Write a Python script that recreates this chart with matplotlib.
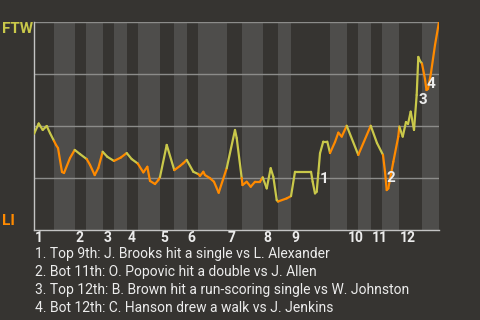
import numpy as np
import matplotlib.pyplot as plt
from matplotlib.collections import LineCollection

plt.rcParams['font.family'] = ['Roboto', 'DejaVu Sans']

BG = "#363431"
LIGHT = "#4e4d4b"
GRID = "#8c8c8a"
AXIS = "#c4c4c4"
YEL = "#c9c84a"
ORG = "#ff8a00"
TXT = "#ececec"

# game progress (0-100) and win probability
x = [0, 1.16, 2.15, 3.14, 3.95, 4.94, 5.43, 5.93, 6.91, 7.41, 8.89, 10.05, 11.36,
     13.01, 13.83, 14.99, 15.88, 16.96, 18.10, 19.75, 21.41, 22.89, 24.12, 25.60,
     26.99, 27.98, 28.64, 29.88, 30.69, 31.11, 32.77, 34.64, 36.05, 36.86, 37.70,
     39.33, 40.57, 40.99, 41.80, 42.22, 43.46, 44.44, 45.60, 47.58, 49.63, 50.05,
     51.28, 51.48, 52.52, 53.51, 54.57, 55.80, 56.47, 57.46, 58.44, 59.09, 59.93,
     60.25, 62.40, 63.46, 64.44, 68.40, 68.81, 69.38, 69.80, 70.20, 70.62, 71.43,
     72.42, 73.09, 74.32, 75.14, 75.98, 77.21, 80.07, 83.14, 84.69, 86.17, 86.67,
     87.09, 87.48, 88.72, 89.95, 90.20, 91.04, 91.85, 92.35, 93.01, 93.83, 94.49,
     94.89, 95.31, 95.80, 96.54, 96.91, 97.28, 98.02, 99.01, 100]
wp = [0.462, 0.512, 0.481, 0.500, 0.466, 0.428, 0.409, 0.394, 0.279, 0.274, 0.346,
      0.385, 0.365, 0.341, 0.313, 0.264, 0.298, 0.376, 0.352, 0.332, 0.348, 0.370,
      0.341, 0.320, 0.277, 0.304, 0.236, 0.221, 0.240, 0.255, 0.409, 0.288, 0.308,
      0.321, 0.337, 0.280, 0.269, 0.260, 0.280, 0.264, 0.249, 0.232, 0.179, 0.297,
      0.481, 0.442, 0.250, 0.216, 0.232, 0.208, 0.232, 0.232, 0.253, 0.200, 0.297,
      0.256, 0.144, 0.137, 0.152, 0.163, 0.280, 0.280, 0.232, 0.176, 0.184, 0.273,
      0.369, 0.425, 0.425, 0.370, 0.423, 0.468, 0.449, 0.501, 0.361, 0.501, 0.418,
      0.361, 0.280, 0.192, 0.200, 0.328, 0.449, 0.497, 0.449, 0.519, 0.510, 0.569,
      0.481, 0.649, 0.832, 0.813, 0.800, 0.726, 0.673, 0.678, 0.755, 0.889, 1.0]

# half-inning boundaries (top, bottom, top, bottom ...)
half_edges = [0, 4.94, 10.12, 12.84, 17.04, 19.75, 22.96, 25.68, 31.11, 34.57,
              37.78, 40.49, 47.65, 51.36, 56.54, 60.25, 63.46, 73.09, 77.28, 80.0,
              83.21, 85.93, 90.12, 95.8, 100]
innings = [str(i) for i in range(1, 13)]

events = ["1", "2", "3", "4"]
event_x = [71.53, 88.15, 96.05, 98.02]
event_y = [0.243, 0.248, 0.625, 0.703]
event_text = [
    "1. Top 9th: J. Brooks hit a single vs L. Alexander",
    "2. Bot 11th: O. Popovic hit a double vs J. Allen",
    "3. Top 12th: B. Brown hit a run-scoring single vs W. Johnston",
    "4. Bot 12th: C. Hanson drew a walk vs J. Jenkins",
]

fig = plt.figure(figsize=(4.8, 3.2), dpi=100, facecolor=BG)
ax = fig.add_axes([34/480, 90/320, 405/480, 208/320], facecolor=BG)
ax.set_xlim(0, 100)
ax.set_ylim(0, 1)

for i in range(1, len(half_edges) - 1, 2):
    ax.axvspan(half_edges[i], half_edges[i + 1], color=LIGHT, lw=0, zorder=0)
for g in [0.25, 0.5, 0.75, 1.0]:
    ax.axhline(g, color=GRID, lw=1, zorder=1)

xs = np.array(x)
pts = np.column_stack([xs, wp])
segs = np.stack([pts[:-1], pts[1:]], axis=1)
half = np.searchsorted(half_edges, (xs[:-1] + xs[1:]) / 2) - 1
cols = [YEL if h % 2 == 0 else ORG for h in half]
ax.add_collection(LineCollection(segs, colors=cols, linewidths=1.6,
                                 capstyle='round', joinstyle='round', zorder=3))

for s, ex, ey in zip(events, event_x, event_y):
    ax.text(ex, ey, s, color=TXT, fontsize=11, fontweight='bold',
            ha='center', va='center', zorder=4)

for lbl, e in zip(innings, half_edges[0::2]):
    ax.annotate(lbl, xy=(e, 0), xycoords=('data', 'axes fraction'),
                xytext=(0.5, -1), textcoords='offset points', ha='left', va='top',
                fontsize=10, fontweight='bold', color=TXT, annotation_clip=False)

for sp in ['top', 'right']:
    ax.spines[sp].set_visible(False)
for sp in ['left', 'bottom']:
    ax.spines[sp].set_color(AXIS)
    ax.spines[sp].set_linewidth(1)
ax.set_xticks([])
ax.set_yticks([])

fig.text(2/480, 1 - 33/320, "FTW", color=YEL, fontsize=11, fontweight='bold', va='baseline')
fig.text(2/480, 1 - 225/320, "LI", color=ORG, fontsize=11, fontweight='bold', va='baseline')

for i, t in enumerate(event_text):
    fig.text(35/480, 1 - (258.3 + 17.8 * i)/320, t, color=TXT, fontsize=10, va='baseline')

fig.savefig("out.png", dpi=100, facecolor=BG)
